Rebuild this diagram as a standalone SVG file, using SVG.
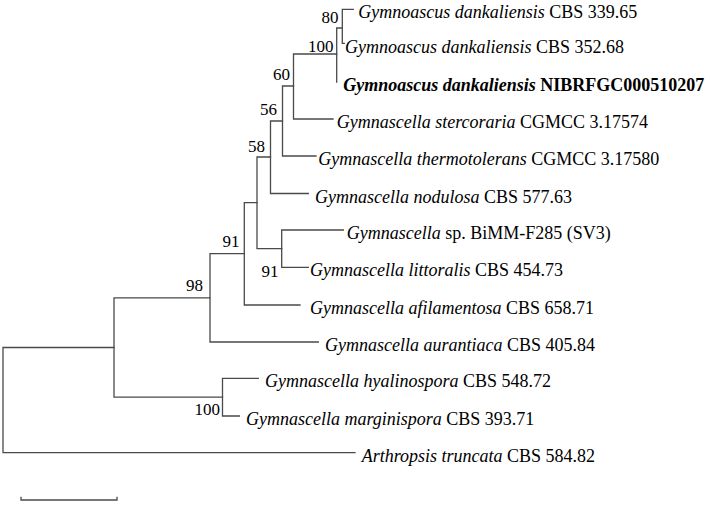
<svg xmlns="http://www.w3.org/2000/svg" width="710" height="508" viewBox="0 0 710 508">
<style>
.br{fill:none;stroke:#4a4a4a;stroke-width:1.3;stroke-linecap:square}
.tx{font-family:"Liberation Serif","Times New Roman",serif;font-size:18px;fill:#000}
.it{font-style:italic}
.bd{font-weight:bold}
.bs{font-family:"Liberation Serif","Times New Roman",serif;font-size:17px;fill:#000;text-anchor:end}
</style>
<rect width="710" height="508" fill="#fff"/>
<g id="connectors">
<path class="br" d="M342.3,9.3V43.3M342.3,9.3H353.3M342.3,43.3H344.3"/>
<path class="br" d="M336.7,28H342.3M336.7,28V82"/>
<path class="br" d="M293.5,54H336.7M293.5,54V119M293.5,119H333"/>
<path class="br" d="M282.5,86H293.5M282.5,86V156M282.5,156H316"/>
<path class="br" d="M270.5,121H282.5M270.5,121V193.5M270.5,193.5H308.3"/>
<path class="br" d="M257,157H270.5M257,157V248.6M257,248.6H281.7"/>
<path class="br" d="M281.7,230V267.3M281.7,230H343.3M281.7,267.3H308.3"/>
<path class="br" d="M244.3,202.7H257M244.3,202.7V305M244.3,305H300"/>
<path class="br" d="M210,253.7H244.3M210,253.7V342M210,342H318.3"/>
<path class="br" d="M114,297.8H210M114,297.8V397.2M114,397.2H222.5"/>
<path class="br" d="M222.5,378.3V416M222.5,378.3H258.3M222.5,416H239.3"/>
<path class="br" d="M3,347.5H114M3,347.5V452.7M3,452.7H355"/>
</g>
<g id="bootstrap">
<text class="bs" x="338.5" y="22.5">80</text>
<text class="bs" x="333.5" y="51.5">100</text>
<text class="bs" x="290" y="79.5">60</text>
<text class="bs" x="277" y="115">56</text>
<text class="bs" x="265" y="151.7">58</text>
<text class="bs" x="239.5" y="246.7">91</text>
<text class="bs" x="278.5" y="276.5">91</text>
<text class="bs" x="203" y="290.7">98</text>
<text class="bs" x="220" y="415">100</text>
</g>
<g id="t1"><text class="tx" x="358.3" y="18.3"><tspan class="it">Gymnoascus dankaliensis</tspan> CBS 339.65</text></g>
<g id="t2"><text class="tx" x="345" y="52.5"><tspan class="it">Gymnoascus dankaliensis</tspan> CBS 352.68</text></g>
<g id="t3"><text class="tx bd" x="343.3" y="91.2"><tspan class="it">Gymnoascus dankaliensis</tspan> NIBRFGC000510207</text></g>
<g id="t4"><text class="tx" x="336.7" y="128"><tspan class="it">Gymnascella stercoraria</tspan> CGMCC 3.17574</text></g>
<g id="t5"><text class="tx" x="318.3" y="165"><tspan class="it">Gymnascella thermotolerans</tspan> CGMCC 3.17580</text></g>
<g id="t6"><text class="tx" x="315" y="202.5"><tspan class="it">Gymnascella nodulosa</tspan> CBS 577.63</text></g>
<g id="t7"><text class="tx" x="346.7" y="239"><tspan class="it">Gymnascella</tspan> sp. BiMM-F285 (SV3)</text></g>
<g id="t8"><text class="tx" x="310" y="276.3"><tspan class="it">Gymnascella littoralis</tspan> CBS 454.73</text></g>
<g id="t9"><text class="tx" x="310" y="314"><tspan class="it">Gymnascella afilamentosa</tspan> CBS 658.71</text></g>
<g id="t10"><text class="tx" x="325" y="351"><tspan class="it">Gymnascella aurantiaca</tspan> CBS 405.84</text></g>
<g id="t11"><text class="tx" x="265" y="387.3"><tspan class="it">Gymnascella hyalinospora</tspan> CBS 548.72</text></g>
<g id="t12"><text class="tx" x="246" y="425"><tspan class="it">Gymnascella marginispora</tspan> CBS 393.71</text></g>
<g id="t13"><text class="tx" x="361.7" y="461.7"><tspan class="it">Arthropsis truncata</tspan> CBS 584.82</text></g>
<g id="scalebar">
<path class="br" d="M21,500H117M21,497.5V500M117,497.5V500"/>
</g>
</svg>
